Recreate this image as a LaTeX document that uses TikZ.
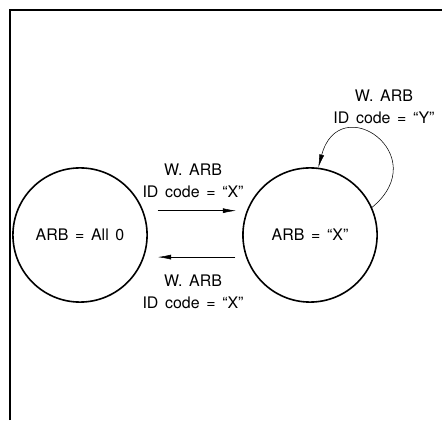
\documentclass[tikz,border=0pt]{standalone}
\usepackage{fontspec}
\setmainfont{TeX Gyre Heros}[WordSpace=1.5]
\usetikzlibrary{arrows.meta}

\begin{document}
\begin{tikzpicture}[
    state/.style={
        circle,
        draw,
        line width=1.2pt,
        minimum size=3.55cm,
        font=\fontsize{12}{14}\selectfont
    },
    cond/.style={
        align=center,
        font=\fontsize{12}{16.5}\selectfont
    },
    trans/.style={
        thin,
        -{Latex[length=3.5mm,width=1.3mm]}
    }
]

\useasboundingbox (0,0) rectangle (11.695,11.113);

% frame edges
\draw[line width=1.3pt] (0.265,0) -- (0.265,10.85) -- (11.695,10.85);

\node[state] (A) at (2.117,4.895) {ARB = All 0};
\node[state] (B) at (8.203,4.895) {ARB = “X”};

\draw[trans, shorten <=0.38cm, shorten >=0.28cm] (A.21) -- (B.159);
\draw[trans, shorten <=0.28cm, shorten >=0.36cm] (B.199) -- (A.-19);

% self loop
\draw[trans] (B.24) .. controls +(1.67,1.38) and +(0.56,2.09) .. (B.83);

% conditions
\node[cond] (c1) at (5.107,6.324) {W. ARB\\ID code = “X”};
\node[cond] (c2) at (5.107,3.387) {W. ARB\\ID code = “X”};
\node[cond] (c3) at (10.16,8.28) {W. ARB\\ID code = “Y”};

\end{tikzpicture}
\end{document}
